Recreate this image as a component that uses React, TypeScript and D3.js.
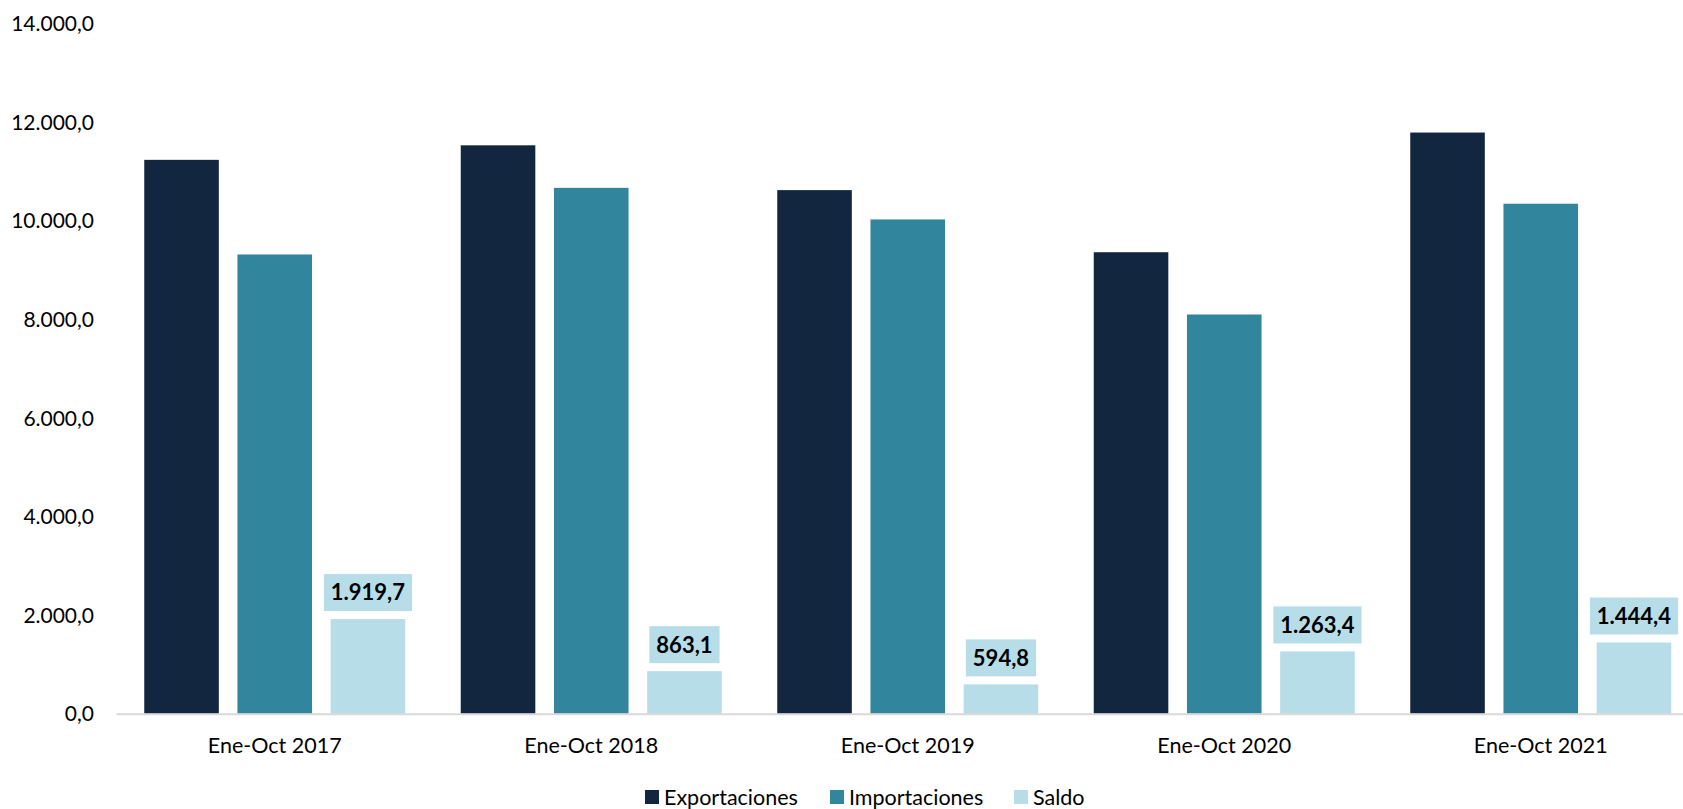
import React, { useEffect, useRef } from "react";
import * as d3 from "d3";

const categories = ["Ene-Oct 2017", "Ene-Oct 2018", "Ene-Oct 2019", "Ene-Oct 2020", "Ene-Oct 2021"];
const seriesNames = ["Exportaciones", "Importaciones", "Saldo"];
const exportaciones = [11236.0, 11531.0, 10622.0, 9362.0, 11790.0];
const importaciones = [9316.3, 10667.9, 10027.2, 8098.6, 10345.6];
const saldo = [1919.7, 863.1, 594.8, 1263.4, 1444.4];
const yTicks = [0, 2000, 4000, 6000, 8000, 10000, 12000, 14000];
const colors = ["#12263F", "#31859C", "#B7DEE8"];

const W = 1683;
const H = 809;
const FONT = "Lato, 'Open Sans', sans-serif";

const fmt = (v: number) => {
  const s = v.toFixed(1);
  const [intPart, dec] = s.split(".");
  const withDots = intPart.replace(/\B(?=(\d{3})+(?!\d))/g, ".");
  return `${withDots},${dec}`;
};

export default function App() {
  const ref = useRef<SVGSVGElement>(null);

  useEffect(() => {
    document.body.style.margin = "0";
    const svg = d3.select(ref.current);
    svg.selectAll("*").remove();

    const y = d3.scaleLinear().domain([0, 14000]).range([713.7, 23.6]);
    const x0 = d3.scaleBand<string>().domain(categories).range([116.5, 1699]).paddingInner(0).paddingOuter(0);
    const groupInset = 27.75;
    const x1 = d3
      .scaleBand<string>()
      .domain(seriesNames)
      .range([0, x0.bandwidth() - 2 * groupInset])
      .paddingInner(0.2)
      .paddingOuter(0);

    const values = [exportaciones, importaciones, saldo];

    // y axis labels
    const yg = svg.append("g");
    yg.selectAll("text")
      .data(yTicks)
      .join("text")
      .attr("x", 94)
      .attr("y", (d) => y(d))
      .attr("dy", "0.36em")
      .attr("text-anchor", "end")
      .attr("font-family", FONT)
      .attr("font-size", 21)
      .attr("fill", "#000")
      .text((d) => fmt(d));

    // bars
    const g = svg.append("g");
    categories.forEach((c, i) => {
      seriesNames.forEach((s, j) => {
        const v = values[j][i];
        g.append("rect")
          .attr("x", (x0(c) as number) + groupInset + (x1(s) as number))
          .attr("y", y(v))
          .attr("width", x1.bandwidth())
          .attr("height", y(0) - y(v))
          .attr("fill", colors[j]);
      });
    });

    // axis line
    svg
      .append("line")
      .attr("x1", 116.5)
      .attr("x2", W)
      .attr("y1", y(0) + 0.5)
      .attr("y2", y(0) + 0.5)
      .attr("stroke", "#D9D9D9")
      .attr("stroke-width", 2);

    // category labels
    svg
      .append("g")
      .selectAll("text")
      .data(categories)
      .join("text")
      .attr("x", (d) => (x0(d) as number) + x0.bandwidth() / 2)
      .attr("y", 753)
      .attr("text-anchor", "middle")
      .attr("font-family", FONT)
      .attr("font-size", 21.5)
      .attr("fill", "#000")
      .text((d) => d);

    // data labels for saldo
    const lg = svg.append("g");
    categories.forEach((c, i) => {
      const v = saldo[i];
      const cx = (x0(c) as number) + groupInset + (x1("Saldo") as number) + x1.bandwidth() / 2;
      const boxBottom = y(v) - 8;
      const boxH = 37;
      const rect = lg.append("rect").attr("fill", colors[2]);
      const t = lg
        .append("text")
        .attr("x", cx)
        .attr("y", boxBottom - boxH / 2)
        .attr("dy", "0.36em")
        .attr("text-anchor", "middle")
        .attr("font-family", FONT)
        .attr("font-weight", "bold")
        .attr("font-size", 22)
        .attr("fill", "#000")
        .text(fmt(v));
      const tw = (t.node() as SVGTextElement).getComputedTextLength();
      const bw = tw + 14;
      rect
        .attr("x", cx - bw / 2)
        .attr("y", boxBottom - boxH)
        .attr("width", bw)
        .attr("height", boxH);
    });

    // legend
    const legendItems = [
      { name: "Exportaciones", x: 645 },
      { name: "Importaciones", x: 830 },
      { name: "Saldo", x: 1014 },
    ];
    const leg = svg.append("g");
    legendItems.forEach((it, j) => {
      leg
        .append("rect")
        .attr("x", it.x)
        .attr("y", 790)
        .attr("width", 14)
        .attr("height", 14)
        .attr("fill", colors[j]);
      leg
        .append("text")
        .attr("x", it.x + 19)
        .attr("y", 805)
        .attr("font-family", FONT)
        .attr("font-size", 21.5)
        .attr("fill", "#000")
        .text(it.name);
    });
  }, []);

  return <svg ref={ref} width={W} height={H} style={{ display: "block", background: "#fff" }} />;
}
